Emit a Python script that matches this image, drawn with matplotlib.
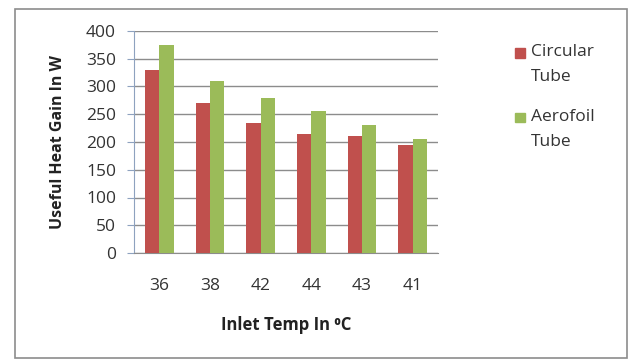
import matplotlib.pyplot as plt
import numpy as np
from matplotlib.patches import Rectangle

plt.rcParams['font.family'] = ['Open Sans', 'DejaVu Sans']

# inlet temperatures (deg C) and useful heat gain (W)
temps = ['36', '38', '42', '44', '43', '41']
circular = [330, 270, 235, 215, 210, 195]
aerofoil = [375, 310, 280, 255, 230, 205]
series_names = ['Circular\nTube', 'Aerofoil\nTube']

red = '#C0504D'
green = '#9BBB59'
text_col = '#333333'

fig = plt.figure(figsize=(6.34, 3.6), dpi=100)
W, H = 634, 360

# outer chart border
fig.patches.append(Rectangle((15 / W, 1 - 358 / H), 612 / W, 349 / H,
                             transform=fig.transFigure, fill=False,
                             edgecolor='#8c8c8c', linewidth=1.2))

ax = fig.add_axes([134 / W, 1 - 253 / H, 304 / W, 222 / H])
x = np.arange(len(temps))
w = 0.28
ax.bar(x - w / 2, circular, w, color=red, zorder=3)
ax.bar(x + w / 2, aerofoil, w, color=green, zorder=3)

ax.set_xlim(-0.5, len(temps) - 0.5)
ax.set_ylim(0, 400)
ax.set_yticks(range(0, 401, 50))
ax.set_xticks(x)
ax.set_xticklabels(temps)
ax.yaxis.grid(True, color='#8c8c8c', linewidth=1.0, zorder=0)
ax.set_axisbelow(True)

for s in ['top', 'right']:
    ax.spines[s].set_visible(False)
ax.spines['left'].set_color('#8ea2bf')
ax.spines['bottom'].set_color('#8c8c8c')
ax.tick_params(axis='y', length=5, color='#8ea2bf', labelsize=12.5,
               labelcolor=text_col, pad=8)
ax.tick_params(axis='x', length=0, labelsize=12.5, labelcolor=text_col, pad=18)

ax.set_ylabel('Useful Heat Gain In W', fontsize=11.5, fontweight='bold',
              color='#222222', labelpad=14)
ax.set_xlabel('Inlet Temp In \u2070C', fontsize=12, fontweight='bold',
              color='#222222', labelpad=16)

# legend: square marker next to the first line of each label
for i, (name, col) in enumerate(zip(series_names, [red, green])):
    y0 = 1 - (53 + 65 * i) / H
    fig.patches.append(Rectangle((515 / W, y0 - 4.5 / H), 10 / W, 9 / H,
                                 transform=fig.transFigure, color=col))
    fig.text(531 / W, y0 + 9 / H, name, fontsize=12.5, color=text_col,
             va='top', ha='left', linespacing=1.75)

fig.savefig('out.png', dpi=100)
